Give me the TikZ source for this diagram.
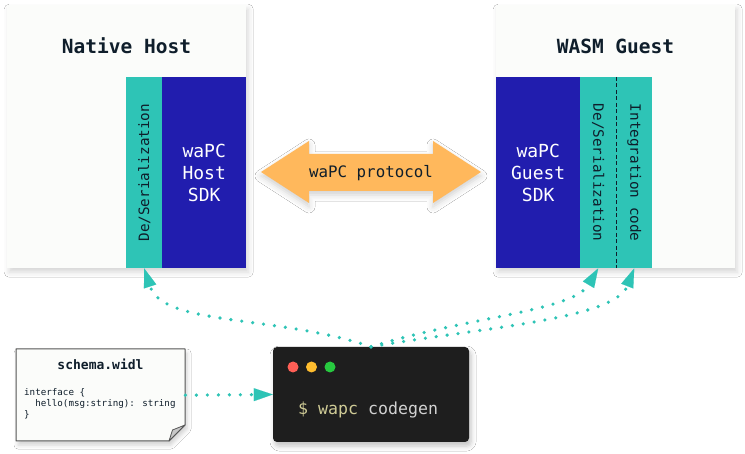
\documentclass[tikz,border=0pt]{standalone}
\usepackage{fontspec}
\setmainfont{DejaVu Sans Mono}
\setmonofont{DejaVu Sans Mono}
\usetikzlibrary{arrows.meta,shadows.blur}
\definecolor{wteal}{HTML}{2EC4B6}
\definecolor{wblue}{HTML}{211DAE}
\definecolor{worange}{HTML}{FFB85C}
\definecolor{wpanel}{HTML}{FBFCFA}
\definecolor{wink}{HTML}{0F1E2B}
\definecolor{wtermbg}{HTML}{1E1E1E}
\definecolor{wnote}{HTML}{555555}
\definecolor{wdollar}{HTML}{CFCB96}
\definecolor{wcode}{HTML}{D2D2D2}
\definecolor{wred}{HTML}{FF5F56}
\definecolor{wyellow}{HTML}{FFBD2E}
\definecolor{wgreen}{HTML}{27C93F}
\tikzset{
  panel/.style={anchor=north west, inner sep=0pt, fill=wpanel, minimum width=239pt, minimum height=263pt,
    blur shadow={shadow xshift=2pt, shadow yshift=-4pt, shadow blur radius=5pt, shadow opacity=16}},
  strip/.style={anchor=north west, inner sep=0pt, minimum height=191pt},
  tealstrip/.style={strip, fill=wteal, minimum width=36pt},
  bluestrip/.style={strip, fill=wblue, minimum width=84pt, text=white, align=center,
    font=\fontsize{18}{22}\selectfont},
  ptitle/.style={anchor=base, text=wink, font=\bfseries\fontsize{19.5}{22}\selectfont},
  striplabel/.style={text=wink, font=\fontsize{14.3}{16}\selectfont, inner sep=0pt},
  dotconn/.style={draw=wteal, line width=3.6pt, line cap=round, dash pattern=on 0pt off 11pt,
    -{Triangle[length=19pt,width=13pt,line width=0.1pt]}},
}
\begin{document}
\begin{tikzpicture}[x=1pt,y=-1pt]
\fill[white] (0,0) rectangle (745,454);
\useasboundingbox (0,0) rectangle (745,454);

% Native host
\node[panel] (host) at (7,5) {};
\node[ptitle] (hosttitle) at (126.5,53.3) {Native Host};
\node[tealstrip] (hostser) at (126,77) {};
\node[bluestrip] (hostsdk) at (162,77) {waPC\\Host\\SDK};
\node[striplabel, rotate=90] (hostserlabel) at (hostser.center) {De/Serialization};

% WASM guest
\node[panel] (guest) at (496,5) {};
\node[ptitle] (guesttitle) at (615.5,53.3) {WASM Guest};
\node[bluestrip] (guestsdk) at (496,77) {waPC\\Guest\\SDK};
\node[tealstrip] (guestser) at (580,77) {};
\node[tealstrip] (guestint) at (616,77) {};
\draw[wink, line width=1pt, dash pattern=on 4pt off 2.5pt] (guestser.north east) -- (guestser.south east);
\node[striplabel, rotate=-90] (guestserlabel) at (guestser.center) {De/Serialization};
\node[striplabel, rotate=-90] (guestintlabel) at (guestint.center) {Integration code};

% protocol arrow
\fill[worange, blur shadow={shadow xshift=0pt, shadow yshift=-4pt, shadow blur radius=6pt, shadow opacity=18}]
  (261,172) -- (309,141) -- (309,154) -- (433,154) -- (433,141) -- (481,172)
  -- (433,203) -- (433,191) -- (309,191) -- (309,203) -- cycle;
\node[anchor=base, text=wink, font=\fontsize{15.8}{18}\selectfont] (proto) at (371,177.5) {waPC protocol};

% schema note
\fill[wpanel, blur shadow={shadow xshift=2pt, shadow yshift=-4pt, shadow blur radius=4pt, shadow opacity=18}]
  (16,349) -- (185,349) -- (185,425) -- (169,441) -- (16,441) -- cycle;
\draw[wnote, line width=1pt, line join=round]
  (16,349) -- (185,349) -- (185,425) -- (169,441) -- (16,441) -- cycle;
\filldraw[fill=black!22, draw=wnote, line width=0.8pt, line join=round]
  (169,441) .. controls (171,436) .. (172.5,430) .. controls (178,428) .. (185,425) -- cycle;
\node[anchor=north west, inner sep=0pt, minimum width=169pt, minimum height=92pt] (note) at (16,349) {};
\node[anchor=base, text=wink, font=\bfseries\fontsize{13}{15}\selectfont] (notetitle) at (100.5,369.5) {schema.widl};
\node[anchor=north west, inner sep=0pt, align=left, text=wink, font=\fontsize{9.2}{10.7}\selectfont] (notecode) at (24,388.5)
  {interface \{\\\phantom{xx}hello(msg:string): string\\\}};

% terminal
\node[inner sep=0pt, minimum width=196pt, minimum height=95pt, rounded corners=4pt, fill=wtermbg,
  blur shadow={shadow xshift=2pt, shadow yshift=-4pt, shadow blur radius=5pt, shadow opacity=24}] (term) at (371,394.5) {};
\fill[wred] (293,367) circle (5.5pt);
\fill[wyellow] (311.5,367) circle (5.5pt);
\fill[wgreen] (330,367) circle (5.5pt);
\node[anchor=base west, inner sep=0pt, font=\fontsize{16.6}{19}\selectfont] (cmd) at (298,415)
  {\textcolor{wdollar}{\$ wapc} \textcolor{wcode}{codegen}};

% connectors
\draw[dotconn] (note.east) -- (term.west);
\draw[dotconn] (term.north) .. controls +(-93,-32) and +(19,58) .. (hostser.south);
\draw[dotconn] (term.north) .. controls +(96,-30) and +(-25.5,43) .. (guestser.south);
\draw[dotconn] (term.north) .. controls +(109,-19) and +(-20,51) .. (guestint.south);
\end{tikzpicture}
\end{document}
